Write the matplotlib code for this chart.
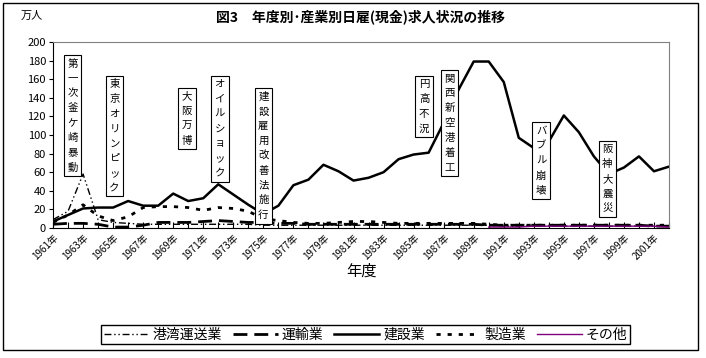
import numpy as np
import matplotlib
matplotlib.use('Agg')
import matplotlib.pyplot as plt
from matplotlib.patches import Rectangle

plt.rcParams['font.family'] = ['Noto Sans CJK JP', 'DejaVu Sans']

# 年度 1961-2002
years = list(range(1961, 2003))

# 単位: 万人
port = [9, 18, 58, 9, 6, 5, 4, 4, 4, 4, 4, 4, 4, 4, 3, 3, 3, 3, 3, 3, 3,
        3, 3, 3, 3, 3, 3, 3, 3, 3, 2, 2, 2, 2, 2, 2, 2, 2, 2, 2, 2, 2]
transport = [4, 5, 5, 4, 1, 1, 3, 6, 6, 6, 7, 8, 7, 6, 6, 5, 5, 4, 4, 4, 4,
             4, 4, 4, 4, 4, 4, 4, 4, 3, 3, 3, 3, 3, 3, 3, 3, 3, 3, 3, 2, 2]
construction = [7, 14, 21, 22, 22, 29, 24, 24, 37, 29, 32, 47, 36, 25, 15, 24,
                46, 52, 68, 61, 51, 54, 60, 74, 79, 81, 113, 149, 179, 179, 157,
                97, 86, 93, 121, 103, 77, 58, 65, 77, 61, 66]
manufacturing = [6, 14, 25, 13, 8, 12, 22, 23, 23, 22, 19, 22, 21, 18, 10, 8,
                 6, 5, 5, 6, 7, 7, 6, 5, 5, 5, 5, 5, 5, 4, 3, 3, 3, 3, 3, 3,
                 3, 3, 3, 3, 3, 3]
others = [np.nan] * 29 + [1, 1, 1, 2, 2, 2, 2, 2, 2, 2, 2, 2, 1]

events = ['第一次釜ケ崎暴動', '東京オリンピック', '大阪万博', 'オイルショック',
          '建設雇用改善法施行', '円高不況', '関西新空港着工', 'バブル崩壊', '阪神大震災']
event_x = [1.3, 4.1, 8.9, 11.1, 14.0, 24.7, 26.4, 32.5, 36.9]
event_top = [182, 160, 147, 160, 147, 160, 166, 110, 90]

x = np.arange(len(years))

fig = plt.figure(figsize=(7.06, 3.58), dpi=100)
ax = fig.add_axes([0.0751, 0.3631, 0.8725, 0.5196])

ax.plot(x, port, color='black', lw=1.0, ls=(0, (5, 2, 1, 2, 1, 2)), label='港湾運送業')
ax.plot(x, transport, color='black', lw=2.0, ls=(0, (5, 2.5)), label='運輸業')
ax.plot(x, construction, color='black', lw=1.8, ls='-', label='建設業')
ax.plot(x, manufacturing, color='black', lw=2.0, ls=(0, (1.5, 2.5)), label='製造業')
ax.plot(x, others, color='#800080', lw=1.0, ls='-', label='その他')

ax.set_xlim(0, len(years) - 1)
ax.set_ylim(0, 200)
ax.set_yticks(range(0, 201, 20))
ax.tick_params(axis='y', labelsize=8, length=3, direction='out', pad=2)
ax.set_xticks(x)
ax.set_xticklabels([f'{y}年' if i % 2 == 0 else '' for i, y in enumerate(years)],
                   rotation=45, ha='right', rotation_mode='anchor', fontsize=7)
ax.tick_params(axis='x', length=4, direction='in', pad=3)
for s in ['top', 'right']:
    ax.spines[s].set_color('#808080')
ax.set_xlabel('年度', fontsize=11, labelpad=1)

for t, ex, et in zip(events, event_x, event_top):
    ax.text(ex, et, '\n'.join(t), ha='center', va='top', fontsize=7.5,
            linespacing=1.6,
            bbox=dict(boxstyle='square,pad=0.35', fc='white', ec='black', lw=0.8))

fig.text(0.51, 0.952, '図3　年度別･産業別日雇(現金)求人状況の推移', ha='center', va='center',
         fontsize=10, fontweight='bold')
fig.text(0.03, 0.955, '万人', ha='left', va='center', fontsize=8)

fig.legend(loc='center', bbox_to_anchor=(0.518, 0.066), ncol=5, frameon=True,
           fancybox=False, edgecolor='black', fontsize=10, handlelength=3.2,
           handletextpad=0.3, columnspacing=0.8, borderpad=0.2, framealpha=1)

fig.patches.append(Rectangle((0.004, 0.022), 0.985, 0.97, transform=fig.transFigure,
                             fill=False, ec='black', lw=1.0))

fig.savefig('out.png', dpi=100)
